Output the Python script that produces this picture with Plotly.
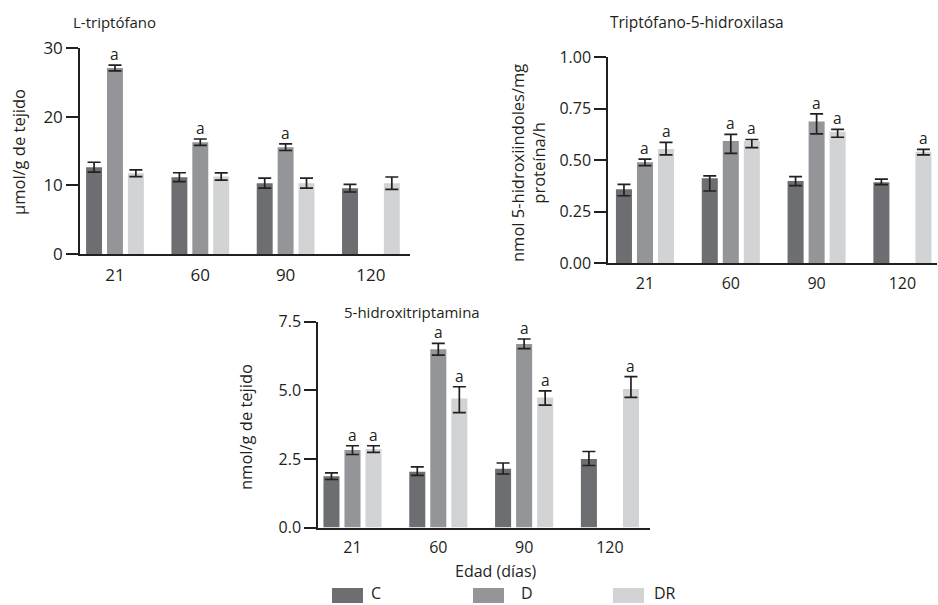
import plotly.graph_objects as go

# ---------------- data ----------------
ages = ["21", "60", "90", "120"]
groups = ["C", "D", "DR"]

# Panel 1: L-triptófano (µmol/g de tejido)
trp_C = [12.64, 11.18, 10.31, 9.58]
trp_D = [27.08, 16.29, 15.56, None]
trp_DR = [11.76, 11.28, 10.31, 10.31]
trp_C_err = [0.72, 0.65, 0.73, 0.55]
trp_D_err = [0.42, 0.46, 0.49, None]
trp_DR_err = [0.49, 0.53, 0.73, 0.90]
trp_sig_C = [0, 0, 0, 0]
trp_sig_D = [1, 1, 1, 0]
trp_sig_DR = [0, 0, 0, 0]

# Panel 2: Triptófano-5-hidroxilasa
tph_C = [0.359, 0.413, 0.400, 0.393]
tph_D = [0.490, 0.594, 0.688, None]
tph_DR = [0.555, 0.594, 0.639, 0.542]
tph_C_plus = [0.024, 0.011, 0.021, 0.016]
tph_C_minus = [0.031, 0.062, 0.023, 0.011]
tph_D_plus = [0.016, 0.032, 0.037, None]
tph_D_minus = [0.016, 0.060, 0.060, None]
tph_DR_plus = [0.032, 0.007, 0.011, 0.011]
tph_DR_minus = [0.029, 0.032, 0.027, 0.016]
tph_sig_C = [0, 0, 0, 0]
tph_sig_D = [1, 1, 1, 0]
tph_sig_DR = [1, 1, 1, 1]

# Panel 3: 5-hidroxitriptamina (nmol/g de tejido)
ht_C = [1.87, 2.03, 2.14, 2.50]
ht_D = [2.82, 6.50, 6.69, None]
ht_DR = [2.86, 4.70, 4.74, 5.05]
ht_C_plus = [0.12, 0.18, 0.21, 0.27]
ht_C_minus = [0.12, 0.13, 0.19, 0.24]
ht_D_plus = [0.16, 0.21, 0.18, None]
ht_D_minus = [0.16, 0.22, 0.17, None]
ht_DR_plus = [0.12, 0.43, 0.24, 0.45]
ht_DR_minus = [0.12, 0.51, 0.28, 0.31]
ht_sig_C = [0, 0, 0, 0]
ht_sig_D = [1, 1, 1, 0]
ht_sig_DR = [1, 1, 1, 1]

# ---------------- style ----------------
W, H = 938, 605
colors = {"C": "#6d6e71", "D": "#939598", "DR": "#d1d3d4"}
ink = "#231f20"
FONT = "Open Sans"
BARGAP = 0.265
SLOT = (1 - BARGAP) / 3


def px(x):
    return x / W


def py(y):
    return 1 - y / H


fig = go.Figure()
annotations = []

panels = [
    dict(idx="", vals=[trp_C, trp_D, trp_DR],
         plus=[trp_C_err, trp_D_err, trp_DR_err],
         minus=[trp_C_err, trp_D_err, trp_DR_err],
         sig=[trp_sig_C, trp_sig_D, trp_sig_DR],
         xdom=[px(80), px(410)], ydom=[py(254), py(48)],
         xrange=[-0.41, 3.458], yrange=[0, 30],
         ytick=[0, 10, 20, 30], yfmt="d", tickfs=17),
    dict(idx="2", vals=[tph_C, tph_D, tph_DR],
         plus=[tph_C_plus, tph_D_plus, tph_DR_plus],
         minus=[tph_C_minus, tph_D_minus, tph_DR_minus],
         sig=[tph_sig_C, tph_sig_D, tph_sig_DR],
         xdom=[px(608), px(937)], ydom=[py(263.3), py(57.3)],
         xrange=[-0.431, 3.403], yrange=[0, 1],
         ytick=[0, 0.25, 0.5, 0.75, 1.0], yfmt=".2f", tickfs=16),
    dict(idx="3", vals=[ht_C, ht_D, ht_DR],
         plus=[ht_C_plus, ht_D_plus, ht_DR_plus],
         minus=[ht_C_minus, ht_D_minus, ht_DR_minus],
         sig=[ht_sig_C, ht_sig_D, ht_sig_DR],
         xdom=[px(318), px(650)], ydom=[py(527.5), py(321.7)],
         xrange=[-0.402, 3.467], yrange=[0, 7.5],
         ytick=[0, 2.5, 5.0, 7.5], yfmt=".1f", tickfs=16),
]

layout_axes = {}
for p in panels:
    xa = "x" + p["idx"]
    ya = "y" + p["idx"]
    xcat = list(range(len(ages)))
    for k, g in enumerate(groups):
        fig.add_trace(go.Bar(
            x=xcat, y=p["vals"][k], name=g, xaxis=xa, yaxis=ya,
            offsetgroup=g, marker=dict(color=colors[g], line=dict(width=0)),
            showlegend=False,
            error_y=dict(type="data", symmetric=False,
                         array=[v if v is not None else 0 for v in p["plus"][k]],
                         arrayminus=[v if v is not None else 0 for v in p["minus"][k]],
                         color=ink, thickness=1.7, width=6.5),
        ))
        off = (k - 1) * SLOT
        for i, s in enumerate(p["sig"][k]):
            if s and p["vals"][k][i] is not None:
                annotations.append(dict(
                    x=i + off, y=p["vals"][k][i] + p["plus"][k][i],
                    xref=xa, yref=ya, text="a", showarrow=False,
                    yanchor="bottom", yshift=-2,
                    font=dict(family=FONT, size=15.5, color=ink)))
    axis_common = dict(showgrid=False, zeroline=False, showline=True,
                       linecolor=ink, linewidth=1.5, automargin=False)
    layout_axes["xaxis" + p["idx"]] = dict(
        axis_common, domain=p["xdom"], range=p["xrange"], anchor=ya,
        tickmode="array", tickvals=xcat, ticktext=ages,
        ticks="outside", ticklen=5, tickcolor="rgba(0,0,0,0)",
        tickfont=dict(family=FONT, size=p["tickfs"], color=ink), fixedrange=True)
    layout_axes["yaxis" + p["idx"]] = dict(
        axis_common, domain=p["ydom"], range=p["yrange"], anchor=xa,
        tickmode="array", tickvals=p["ytick"], tickformat=p["yfmt"],
        ticks="outside", ticklen=12, tickwidth=1.5, tickcolor=ink,
        tickfont=dict(family=FONT, size=p["tickfs"], color=ink), fixedrange=True)

# titles and axis titles
def text(x, y, t, size, angle=0, pad=1):
    annotations.append(dict(x=px(x), y=py(y), xref="paper", yref="paper", text=t,
                            showarrow=False, textangle=angle, borderpad=pad,
                            xanchor="center", yanchor="middle",
                            font=dict(family=FONT, size=size, color=ink)))

text(114, 22, "L-triptófano", 15)
text(697, 22, "Triptófano-5-hidroxilasa", 15.5)
text(412, 312, "5-hidroxitriptamina", 15)
text(19, 152, "µmol/g de tejido", 16.5, -90)
text(528, 163, "nmol 5-hidroxiindoles/mg<br>proteína/h", 16.5, -90)
text(245, 427, "nmol/g de tejido", 16.5, -90)
text(496, 570.5, "Edad (días)", 16, pad=0)

# legend (manual)
shapes = []
legend_items = [("C", 332, 370), ("D", 473, 520), ("DR", 613, 653)]
for g, bx, tx in legend_items:
    shapes.append(dict(type="rect", xref="paper", yref="paper",
                       x0=px(bx), x1=px(bx + 31), y0=py(603), y1=py(588),
                       fillcolor=colors[g], line=dict(width=0)))
    annotations.append(dict(x=px(tx), y=py(604.5), xref="paper", yref="paper",
                            text=g, showarrow=False, xanchor="left", yanchor="bottom",
                            borderpad=0,
                            font=dict(family=FONT, size=16, color=ink)))

fig.update_layout(
    width=W, height=H, margin=dict(l=0, r=0, t=0, b=0, autoexpand=False),
    paper_bgcolor="white", plot_bgcolor="white",
    barmode="group", bargap=BARGAP, bargroupgap=0.237,
    showlegend=False, annotations=annotations, shapes=shapes,
    font=dict(family=FONT, color=ink),
    **layout_axes,
)

fig.write_html(
    "out.html",
    config={"displayModeBar": False},
    post_script="document.body.style.margin='0px';document.body.style.overflow='hidden';",
)
